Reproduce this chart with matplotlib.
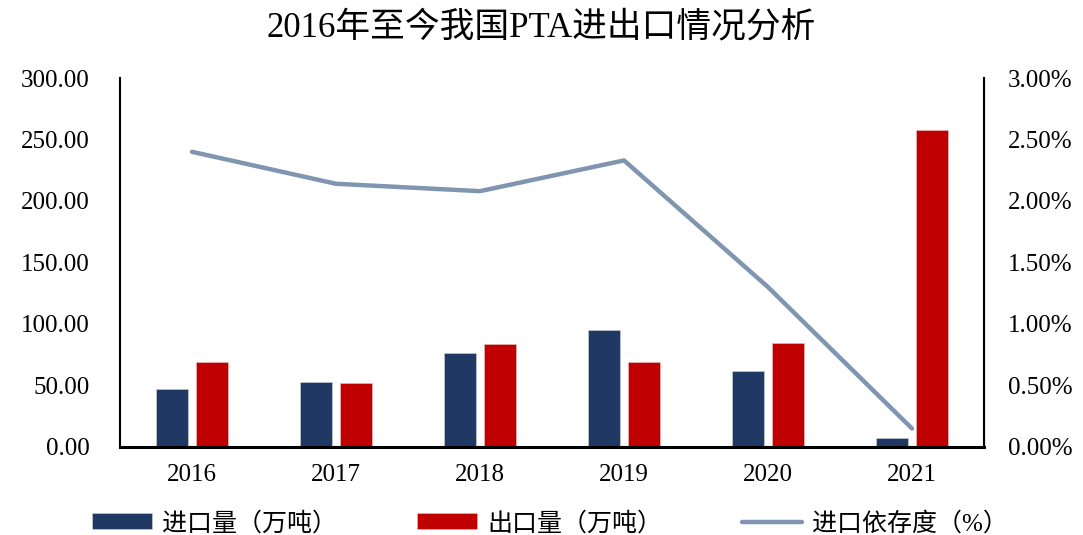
import numpy as np
import matplotlib.pyplot as plt
from matplotlib.ticker import FuncFormatter

plt.rcParams['font.family'] = ['Liberation Serif', 'Noto Sans CJK SC']

years = ["2016", "2017", "2018", "2019", "2020", "2021"]
imports = [46.9, 53.1, 76.2, 95.4, 61.5, 7.6]       # 进口量（万吨）
exports = [69.3, 52.3, 83.5, 69.1, 84.6, 257.5]     # 出口量（万吨）
dependence = [2.40, 2.14, 2.08, 2.33, 1.30, 0.15]   # 进口依存度（%）

c_imp = "#203864"
c_exp = "#C00000"
c_line = "#8095B0"

fig = plt.figure(figsize=(10.83, 5.35), dpi=100)
ax = fig.add_axes([0.1108, 0.1645, 0.7978, 0.6897])
ax2 = ax.twinx()

x = np.arange(len(years))
w = 0.222
off = 0.142
ax.bar(x - off, imports, w, color=c_imp, edgecolor="#d0d6e0", linewidth=0.4, label="进口量（万吨）", zorder=2)
ax.bar(x + off, exports, w, color=c_exp, edgecolor="#f0c0c0", linewidth=0.4, label="出口量（万吨）", zorder=2)
ax2.plot(x, np.array(dependence) / 100, color=c_line, linewidth=3.2, solid_capstyle="round",
         label="进口依存度（%）")

ax.set_xlim(-0.5, len(years) - 0.5)
ax.set_ylim(0, 300)
ax.set_yticks(np.arange(0, 301, 50))
ax.yaxis.set_major_formatter(FuncFormatter(lambda v, p: "%.2f" % v))
ax2.set_ylim(0, 0.03)
ax2.set_yticks(np.arange(0, 0.0301, 0.005))
ax2.yaxis.set_major_formatter(FuncFormatter(lambda v, p: "%.2f%%" % (v * 100)))

ax.set_xticks(x)
ax.set_xticklabels(years)

for a in (ax, ax2):
    a.spines["top"].set_visible(False)
    a.tick_params(length=0, labelsize=18)
ax.spines["left"].set_linewidth(1.5)
ax2.spines["right"].set_linewidth(1.5)
ax.spines["bottom"].set_linewidth(2.2)
ax2.spines["bottom"].set_visible(False)
ax2.spines["left"].set_visible(False)
ax.tick_params(axis="y", pad=22)
ax2.tick_params(axis="y", pad=17)
ax.tick_params(axis="x", pad=12)

fig.text(0.5, 0.948, "2016年至今我国PTA进出口情况分析", ha="center", va="center", fontsize=25)

h1, l1 = ax.get_legend_handles_labels()
h2, l2 = ax2.get_legend_handles_labels()
fig.legend(h1 + h2, l1 + l2, loc="center", bbox_to_anchor=(0.508, 0.022), ncol=3, frameon=False,
           fontsize=18, handlelength=2.4, handleheight=0.6, columnspacing=3.2, handletextpad=0.4)

fig.savefig("out.png", dpi=100)
